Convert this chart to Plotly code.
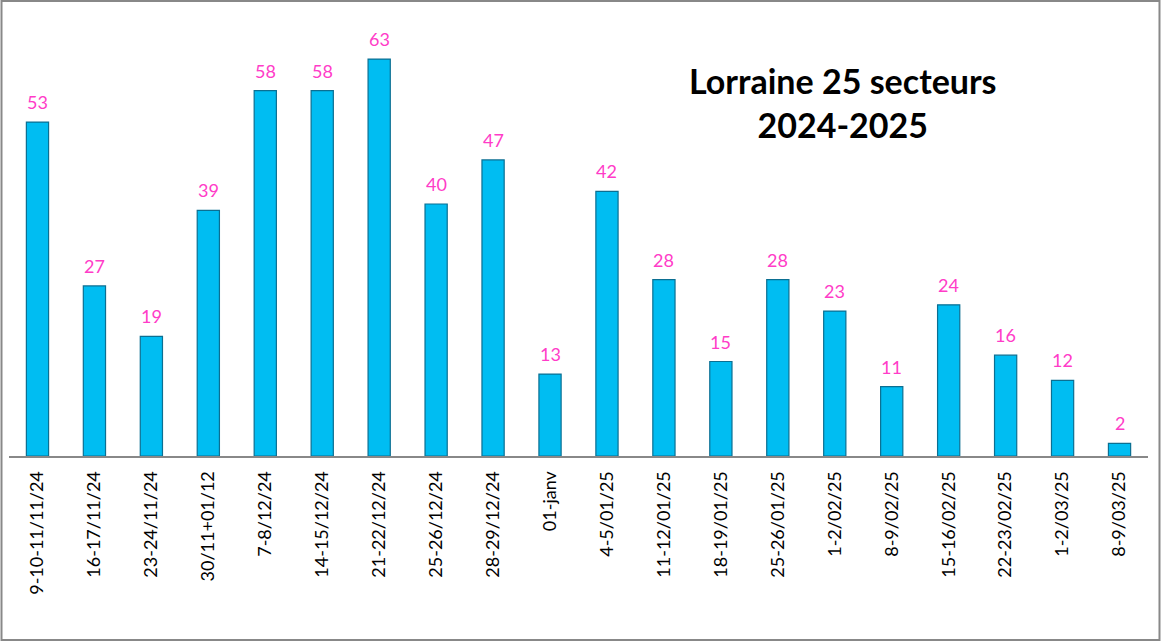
import plotly.graph_objects as go

categories = ["9-10-11/11/24", "16-17/11/24", "23-24/11/24", "30/11+01/12", "7-8/12/24",
              "14-15/12/24", "21-22/12/24", "25-26/12/24", "28-29/12/24", "01-janv",
              "4-5/01/25", "11-12/01/25", "18-19/01/25", "25-26/01/25", "1-2/02/25",
              "8-9/02/25", "15-16/02/25", "22-23/02/25", "1-2/03/25", "8-9/03/25"]
values = [53, 27, 19, 39, 58, 58, 63, 40, 47, 13, 42, 28, 15, 28, 23, 11, 24, 16, 12, 2]

W, H = 1163, 643
L, R, T, B = 8.5, 14.5, 15, 187

fig = go.Figure()
fig.add_trace(go.Bar(
    x=categories, y=values,
    marker=dict(color="#00bdf2", line=dict(color="#0b6f92", width=1.2)),
    cliponaxis=False,
))

for c, v in zip(categories, values):
    fig.add_annotation(x=c, y=v, text=str(v), showarrow=False, yanchor="bottom",
                       yshift=7, font=dict(color="#ff3cc8", size=18, family="Lato"))

pw = W - L - R
ph = H - T - B
fig.add_shape(type="rect", xref="paper", yref="paper",
              x0=(1 - L) / pw, x1=(1160 - L) / pw,
              y0=1 - (640 - T) / ph, y1=1 - (1 - T) / ph,
              line=dict(color="#888888", width=2), fillcolor="rgba(0,0,0,0)", layer="below")

fig.add_annotation(text="<b>Lorraine 25 secteurs<br>2024-2025</b>", xref="paper", yref="paper",
                   x=(843 - L) / pw, y=1 - (102 - T) / ph, showarrow=False,
                   xanchor="center", yanchor="middle",
                   font=dict(size=34, color="black", family="Lato"), align="center")

fig.update_layout(
    width=W, height=H,
    margin=dict(l=L, r=R, t=T, b=B, pad=0),
    plot_bgcolor="white", paper_bgcolor="white",
    bargap=0.61, showlegend=False,
    xaxis=dict(tickangle=-90, tickfont=dict(size=18, color="black", family="Lato"),
               ticklabelstandoff=6,
               showline=True, linecolor="#888888", linewidth=2, ticks="", showgrid=False),
    yaxis=dict(range=[0, 70], visible=False, showgrid=False, zeroline=False),
)

fig.write_html("out.html", config={"displayModeBar": False},
               post_script="document.body.style.margin='0';")
